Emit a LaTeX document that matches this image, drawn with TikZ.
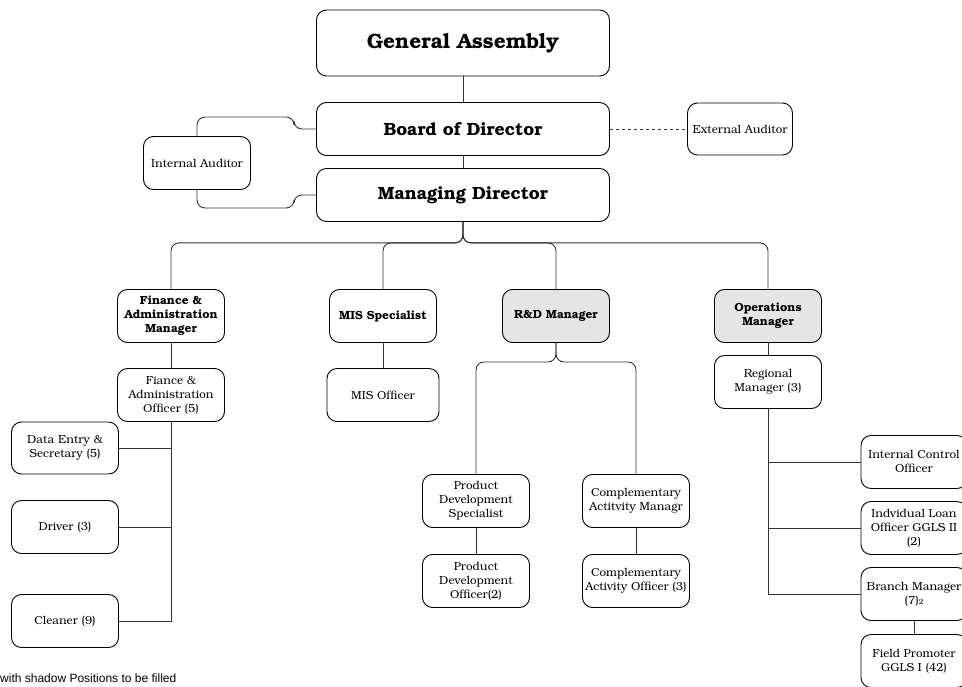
\documentclass[tikz,border=0pt]{standalone}
\usepackage{fontspec}
\usepackage[T1]{fontenc}
\usepackage{bookman}
\usepackage{tikz}
\usetikzlibrary{positioning,calc}
\newfontfamily\legendfont{Liberation Sans}

\begin{document}
\begin{tikzpicture}[
 x=1pt,y=-1pt,
 box/.style={draw,line width=0.9pt,rounded corners=10pt,align=center,minimum width=107pt,minimum height=53pt,
   inner sep=1pt,font=\fontsize{11.6}{14}\selectfont},
 hbox/.style={box,font=\fontsize{11.8}{14}\selectfont\bfseries},
 topbox/.style={box,minimum width=293pt,font=\fontsize{17.7}{20}\selectfont\bfseries},
 shade/.style={fill=black!10},
 conn/.style={draw=black!80,line width=0.9pt},
 elbow/.style={conn,rounded corners=8pt}
]
\useasboundingbox (0,0) rectangle (962,687);
% top of the chart
\node[topbox,minimum height=66pt,font=\fontsize{20.8}{24}\selectfont\bfseries] (ga) at (463,43) {General Assembly};
\node[topbox] (bod) at (463,129) {Board of Director};
\node[topbox] (md) at (463,195) {Managing Director};
\node[box] (ia) at (197,163) {Internal Auditor};
\node[box,minimum width=105pt,minimum height=52pt] (ea) at (740,129) {External Auditor};
\draw[conn] (ga)--(bod);
\draw[conn] (bod)--(md);
\draw[elbow] (ia.north) |- ($(bod.west)+(-22,-12)$) |- (bod.west);
\draw[elbow] (ia.south) |- ($(md.west)+(-22,13)$) |- (md.west);
\draw[conn,dashed] (bod.east)--(ea.west);

% department heads
\node[hbox] (fam) at (171,316) {Finance \&\\Administration\\Manager};
\node[hbox] (mis) at (383,316) {MIS Specialist};
\node[hbox,shade] (rd) at (556,316) {R\&D Manager};
\node[hbox,shade] (ops) at (768,316) {Operations\\Manager};
\foreach \d in {fam,mis,rd,ops}
  \draw[elbow] (md.south) -- ++(0,21) -| (\d.north);

% finance column
\node[box] (fao) at (171,395) {Fiance \&\\Administration\\Officer (5)};
\node[box,minimum height=52pt] (des) at (65,448) {Data Entry \&\\Secretary (5)};
\node[box] (drv) at (65,527) {Driver (3)};
\node[box] (cln) at (65,621) {Cleaner (9)};
\draw[conn] (fam)--(fao);
\draw[conn] (fao.south) |- (cln.east);
\draw[conn] (des.east) -- (des.east -| fao.south);
\draw[conn] (drv.east) -- (drv.east -| fao.south);

% MIS column
\node[box,minimum width=112pt] (miso) at (383,395) {MIS Officer};
\draw[conn] (mis)--(miso);

% R&D column
\node[box] (pds) at (476,501) {Product\\Development\\Specialist};
\node[box] (pdo) at (476,581) {Product\\Development\\Officer(2)};
\node[box] (cam) at (636,501) {Complementary\\Actitvity Managr};
\node[box] (cao) at (636,581) {Complementary\\Activity Officer (3)};
\draw[elbow] (rd.south) -- ++(0,19) -| (pds.north);
\draw[elbow] (rd.south) -- ++(0,19) -| (cam.north);
\draw[conn] (pds)--(pdo);
\draw[conn] (cam)--(cao);

% operations column
\node[box] (rm) at (768,382) {Regional\\Manager (3)};
\node[box,minimum width=106pt] (ico) at (914,462) {Internal Control\\Officer};
\node[box,minimum width=106pt] (ilo) at (914,528) {Indvidual Loan\\Officer GGLS II\\(2)};
\node[box,minimum width=106pt] (bm) at (914,594) {Branch Manager\\(7){\fontsize{7.5}{8}\selectfont 2}};
\node[box,minimum width=106pt] (fp) at (914,661) {Field Promoter\\GGLS I (42)};
\draw[conn] (ops)--(rm);
\draw[conn] (rm.south) |- (bm.west);
\draw[conn] (ico.west) -- (ico.west -| rm.south);
\draw[conn] (ilo.west) -- (ilo.west -| rm.south);
\draw[conn] (bm)--(fp);

\node[anchor=west,inner sep=0pt,font=\legendfont\fontsize{12}{14}\selectfont] (note) at (0,678) {with shadow Positions to be filled};
\end{tikzpicture}
\end{document}
